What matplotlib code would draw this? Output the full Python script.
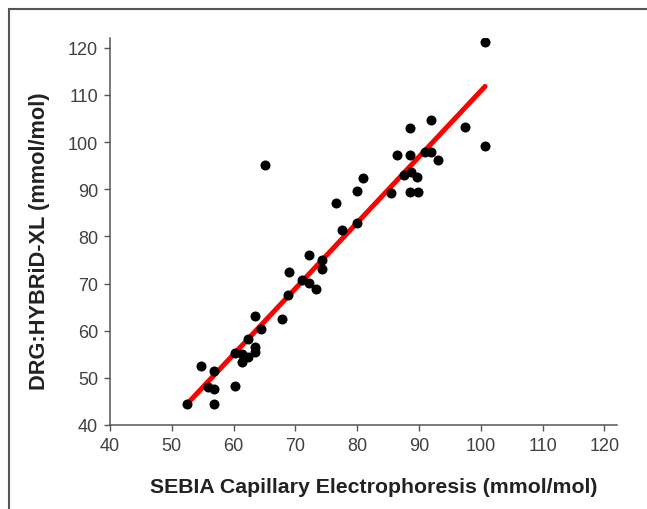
import matplotlib
matplotlib.use("Agg")
import matplotlib.pyplot as plt
from matplotlib.patches import Rectangle

plt.rcParams['font.family'] = ['Liberation Sans', 'DejaVu Sans']

# SEBIA capillary electrophoresis vs DRG:HYBRiD-XL (mmol/mol)
sebia = [52.5, 54.7, 56.8, 55.9, 56.9, 56.9, 60.2, 60.2, 61.3, 61.3,
         62.4, 62.4, 63.4, 63.4, 63.4, 64.5, 67.9, 65.1, 68.8, 68.9,
         71.1, 72.2, 72.2, 73.4, 74.3, 74.3, 77.6, 79.9, 76.6, 79.9,
         81.0, 85.5, 86.4, 87.6, 88.6, 88.6, 88.6, 88.7, 89.7, 89.8,
         90.9, 91.9, 91.9, 93.0, 97.4, 100.7, 100.7]
hybrid = [44.4, 52.5, 51.5, 48.1, 47.6, 44.4, 48.2, 55.3, 55.1, 53.4,
          54.4, 58.3, 56.5, 55.5, 63.2, 60.3, 62.4, 95.1, 67.5, 72.4,
          70.8, 70.1, 76.1, 68.9, 74.9, 73.0, 81.4, 82.9, 87.1, 89.6,
          92.4, 89.2, 97.2, 93.1, 103.0, 97.2, 89.4, 93.6, 92.5, 89.4,
          97.9, 104.7, 97.9, 96.2, 103.1, 121.2, 99.1]

# regression line end points
fit_x = [52.5, 100.7]
fit_y = [44.5, 111.8]

ticks = [40, 50, 60, 70, 80, 90, 100, 110, 120]

fig = plt.figure(figsize=(6.47, 5.10), dpi=100)

# outer frame of the original figure
fig.patches.append(Rectangle((9 / 647, -0.2), 1.2, 1 - 10 / 510 + 0.2,
                             transform=fig.transFigure, fill=False,
                             edgecolor='#555555', linewidth=1.5))

ax = fig.add_axes([110 / 647, 1 - 426 / 510, 506.7 / 647, 386.7 / 510])

ax.scatter(sebia, hybrid, s=52, color='black', zorder=3, linewidths=0)
ax.plot(fit_x, fit_y, color='#ff0000', linewidth=3.6, solid_capstyle='round',
        zorder=2)

ax.set_xlim(40, 122)
ax.set_ylim(40, 122)
ax.set_xticks(ticks)
ax.set_yticks(ticks)

for side in ['top', 'right']:
    ax.spines[side].set_visible(False)
for side in ['left', 'bottom']:
    ax.spines[side].set_color('#555555')
    ax.spines[side].set_linewidth(1.1)

ax.tick_params(direction='out', length=4.5, width=1.0, color='#555555',
               labelsize=13, labelcolor='#404040', pad=4)

ax.set_xlabel('SEBIA Capillary Electrophoresis (mmol/mol)', fontsize=15.3,
              fontweight='bold', color='#222222', labelpad=17)
ax.set_ylabel('DRG:HYBRiD-XL (mmol/mol)', fontsize=15.7,
              fontweight='bold', color='#222222', labelpad=13)
# labels sit a little off centre in the original
ax.xaxis.label.set_x(0.52)
ax.yaxis.label.set_y(0.477)

fig.savefig('out.png', dpi=100)
